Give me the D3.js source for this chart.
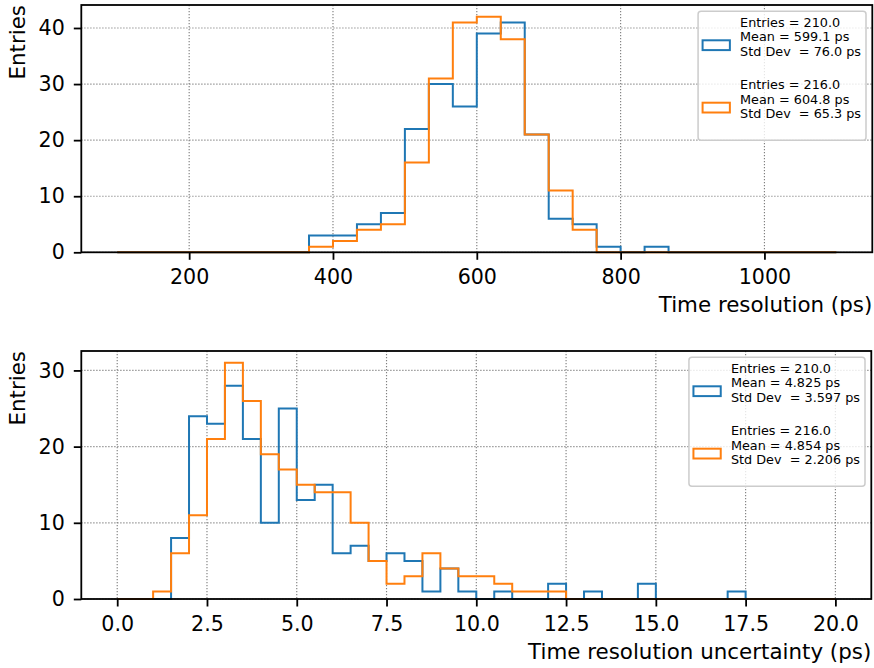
<!DOCTYPE html>
<html>
<head>
<meta charset="utf-8">
<script src="https://cdn.jsdelivr.net/npm/d3@7"></script>
<style>
  html, body { margin: 0; padding: 0; background: #fff; }
  svg { display: block; font-family: "DejaVu Sans", sans-serif; }
</style>
</head>
<body>
<svg id="chart" width="874" height="668"></svg>
<script>
// Histogram binning (range and bin count for each panel)
const resRange = [100, 1100];
const resBins = 30;
const uncRange = [0, 20];
const uncBins = 40;

// Time resolution counts per bin
const resBlue = [0, 0, 0, 0, 0, 0, 0, 0, 3, 3, 5, 7, 22, 30, 26, 39, 41, 21, 6, 5, 1, 0, 1, 0, 0, 0, 0, 0, 0, 0];
const resOrange = [0, 0, 0, 0, 0, 0, 0, 0, 1, 2, 4, 5, 16, 31, 41, 42, 38, 21, 11, 4, 0, 0, 0, 0, 0, 0, 0, 0, 0, 0];

// Time resolution uncertainty counts per bin
const uncBlue = [0, 0, 0, 8, 24, 23, 28, 21, 10, 25, 13, 15, 6, 7, 5, 6, 5, 1, 4, 1,
                 0, 1, 0, 0, 2, 0, 1, 0, 0, 2, 0, 0, 0, 0, 1, 0, 0, 0, 0, 0];
const uncOrange = [0, 0, 1, 6, 11, 21, 31, 26, 19, 17, 15, 14, 14, 10, 5, 2, 3, 6, 4, 3,
                   3, 2, 1, 1, 1, 0, 0, 0, 0, 0, 0, 0, 0, 0, 0, 0, 0, 0, 0, 0];

// Tick values
const resTicks = [200, 400, 600, 800, 1000];
const resYTicks = [0, 10, 20, 30, 40];
const uncTicks = [0, 2.5, 5, 7.5, 10, 12.5, 15, 17.5, 20];
const uncYTicks = [0, 10, 20, 30];

// Legend texts
const resLegend = [
  ["Entries = 210.0", "Mean = 599.1 ps", "Std Dev  = 76.0 ps"],
  ["Entries = 216.0", "Mean = 604.8 ps", "Std Dev  = 65.3 ps"]
];
const uncLegend = [
  ["Entries = 210.0", "Mean = 4.825 ps", "Std Dev  = 3.597 ps"],
  ["Entries = 216.0", "Mean = 4.854 ps", "Std Dev  = 2.206 ps"]
];

const colors = ["#1f77b4", "#ff7f0e"];
const TICK_FONT = 20.6;
const LABEL_FONT = 21.4;
const LEG_FONT = 12.8;

const svg = d3.select("#chart");

function panel(opts) {
  const { left, right, top, bottom, range, nBins, series, xTicks, yTicks,
          xFormat, xLabel, legend } = opts;
  const edges = d3.range(nBins + 1).map(i => range[0] + (range[1] - range[0]) * i / nBins);
  const pad = (range[1] - range[0]) * 0.05;
  const x = d3.scaleLinear().domain([range[0] - pad, range[1] + pad]).range([left, right]);
  const ymax = d3.max(series.flat()) * 1.05;
  const y = d3.scaleLinear().domain([0, ymax]).range([bottom, top]);

  const g = svg.append("g");

  // dotted grid
  const grid = g.append("g").attr("stroke", "#808080").attr("stroke-width", 1.15)
    .attr("stroke-dasharray", "1.2,1.8");
  grid.selectAll("line.v").data(xTicks).join("line")
    .attr("x1", d => x(d)).attr("x2", d => x(d)).attr("y1", top).attr("y2", bottom);
  grid.selectAll("line.h").data(yTicks).join("line")
    .attr("y1", d => y(d)).attr("y2", d => y(d)).attr("x1", left).attr("x2", right);

  // step outlines
  const line = d3.line().x(d => x(d[0])).y(d => y(d[1]));
  series.forEach((counts, si) => {
    const pts = [[edges[0], 0]];
    counts.forEach((c, i) => { pts.push([edges[i], c]); pts.push([edges[i + 1], c]); });
    pts.push([edges[nBins], 0]);
    g.append("path").attr("d", line(pts)).attr("fill", "none")
      .attr("stroke", colors[si]).attr("stroke-width", 2)
      .attr("stroke-linejoin", "miter");
  });

  // axes
  const xAxis = d3.axisBottom(x).tickValues(xTicks).tickFormat(xFormat)
    .tickSize(7.5).tickPadding(9.6).tickSizeOuter(0);
  const yAxis = d3.axisLeft(y).tickValues(yTicks).tickFormat(d3.format("d"))
    .tickSize(7.5).tickPadding(9).tickSizeOuter(0);
  [g.append("g").attr("transform", `translate(0,${bottom})`).call(xAxis),
   g.append("g").attr("transform", `translate(${left},0)`).call(yAxis)].forEach(a => {
    a.select(".domain").remove();
    a.selectAll(".tick line").attr("stroke", "#000").attr("stroke-width", 1.8);
    a.selectAll(".tick text").attr("fill", "#000").style("font-size", TICK_FONT + "px")
      .style("font-family", "DejaVu Sans");
  });

  // frame
  g.append("rect").attr("x", left).attr("y", top)
    .attr("width", right - left).attr("height", bottom - top)
    .attr("fill", "none").attr("stroke", "#000").attr("stroke-width", 1.8);

  // axis labels
  g.append("text").attr("x", right).attr("y", bottom + 60)
    .attr("text-anchor", "end").style("font-size", LABEL_FONT + "px").text(xLabel);
  g.append("text").attr("transform", `translate(${left - 62},${top}) rotate(-90)`)
    .attr("text-anchor", "end").attr("dominant-baseline", "middle")
    .style("font-size", LABEL_FONT + "px").text("Entries");

  // legend
  const lg = g.append("g");
  const box = lg.append("rect").attr("fill", "#fff").attr("fill-opacity", 0.8)
    .attr("stroke", "#cccccc").attr("stroke-width", 1.5).attr("rx", 3);
  let maxLen = 0;
  const texts = lg.append("g");
  legend.forEach((lines, bi) => {
    lines.forEach((t, li) => {
      const el = texts.append("text").attr("x", 0).attr("y", 11 + bi * 62.4 + li * 14.4)
        .attr("dominant-baseline", "central").style("font-size", LEG_FONT + "px")
        .style("white-space", "pre").attr("fill", "#000").text(t);
      maxLen = Math.max(maxLen, el.node().getComputedTextLength());
    });
  });
  const bw = 42 + maxLen + 5;
  const bh = 129;
  const bx = right - 6.3 - bw;
  const by = top + 6.3;
  box.attr("x", bx).attr("y", by).attr("width", bw).attr("height", bh);
  texts.attr("transform", `translate(${bx + 42},${by})`);
  legend.forEach((lines, bi) => {
    lg.append("rect").attr("x", bx + 4.5).attr("y", by + 11 + bi * 62.4 + 18)
      .attr("width", 27.3).attr("height", 9.8)
      .attr("fill", "none").attr("stroke", colors[bi]).attr("stroke-width", 2);
  });
}

panel({
  left: 81.3, right: 872.3, top: 5, bottom: 252.3,
  range: resRange, nBins: resBins, series: [resBlue, resOrange],
  xTicks: resTicks, yTicks: resYTicks, xFormat: d3.format("d"),
  xLabel: "Time resolution (ps)", legend: resLegend
});

panel({
  left: 81.3, right: 871.3, top: 351, bottom: 599,
  range: uncRange, nBins: uncBins, series: [uncBlue, uncOrange],
  xTicks: uncTicks, yTicks: uncYTicks, xFormat: d3.format(".1f"),
  xLabel: "Time resolution uncertainty (ps)", legend: uncLegend
});
</script>
</body>
</html>
